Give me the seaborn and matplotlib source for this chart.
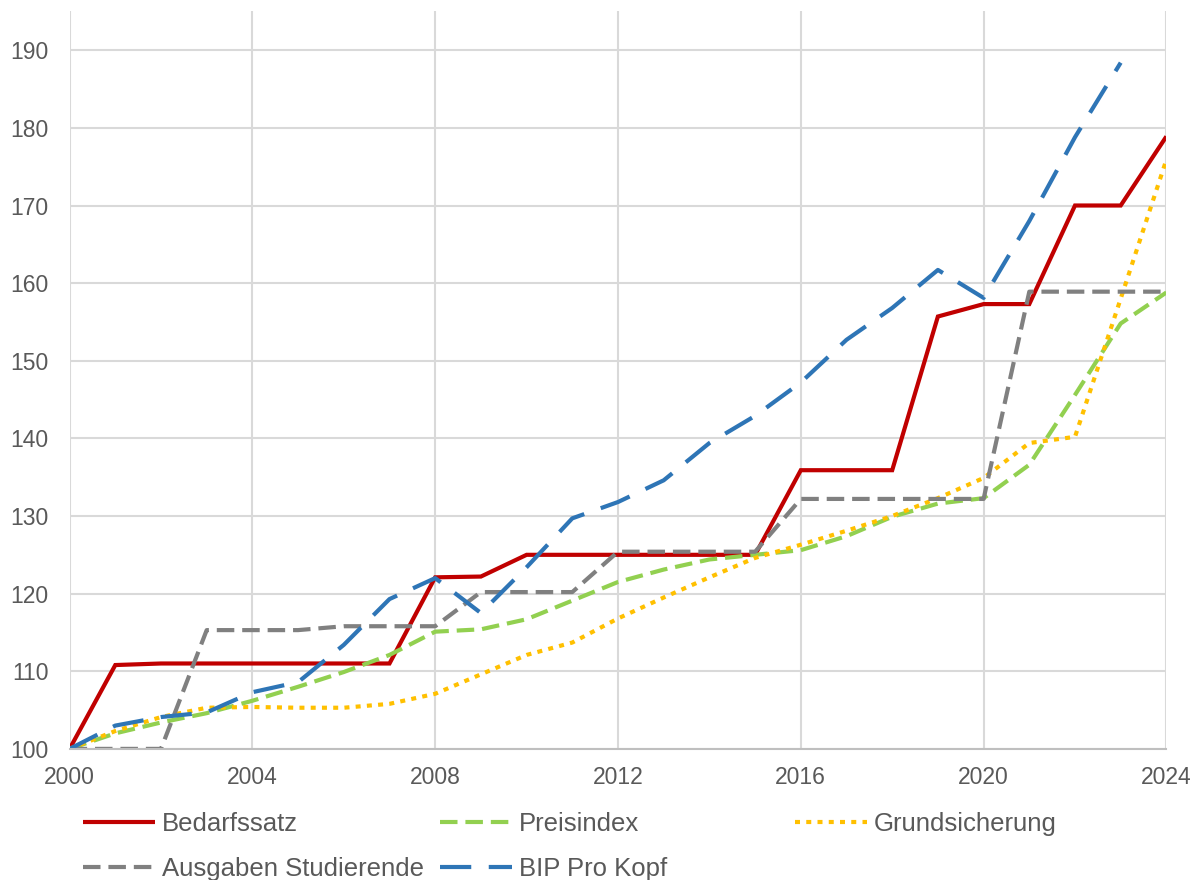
import matplotlib
matplotlib.use("Agg")
import matplotlib.pyplot as plt
import numpy as np
import pandas as pd
import seaborn as sns

# values (index, 2000 = 100)
years = list(range(2000, 2025))

bedarfssatz = [100.0, 110.8, 111.0, 111.0, 111.0, 111.0, 111.0, 111.0, 122.1, 122.2,
               125.0, 125.0, 125.0, 125.0, 125.0, 125.0, 135.9, 135.9, 135.9, 155.7,
               157.3, 157.3, 170.0, 170.0, 178.9]
preisindex = [100.0, 102.0, 103.4, 104.6, 106.2, 108.0, 109.9, 112.1, 115.1, 115.4,
              116.7, 119.1, 121.5, 123.1, 124.4, 125.0, 125.6, 127.4, 129.9, 131.6,
              132.3, 136.6, 145.6, 154.8, 158.8]
grundsicherung = [100.0, 102.3, 104.1, 105.3, 105.4, 105.3, 105.3, 105.8, 107.1, 109.6,
                  112.1, 113.7, 116.8, 119.5, 122.1, 124.6, 126.3, 128.1, 130.0, 132.3,
                  134.9, 139.4, 140.2, 158.0, 175.9]
ausgaben_studierende = [100.0, 100.0, 100.0, 115.3, 115.3, 115.3, 115.8, 115.8, 115.8, 120.2,
                        120.2, 120.2, 125.4, 125.4, 125.4, 125.4, 132.2, 132.2, 132.2, 132.2,
                        132.2, 158.9, 158.9, 158.9, 158.9]
bip_pro_kopf = [100.0, 103.0, 104.1, 104.7, 107.3, 108.6, 113.4, 119.3, 122.0, 117.5,
                123.4, 129.7, 131.8, 134.6, 139.4, 142.9, 147.2, 152.7, 156.8, 161.7,
                158.1, 168.0, 178.8, 188.4, np.nan]

series_names = ["Bedarfssatz", "Preisindex", "Grundsicherung",
                "Ausgaben Studierende", "BIP Pro Kopf"]
series_values = [bedarfssatz, preisindex, grundsicherung,
                 ausgaben_studierende, bip_pro_kopf]

colors = ["#C00000", "#92D050", "#FFC000", "#808080", "#2E75B6"]
# dash patterns in units of line width (None = solid)
dash_styles = [None, (4.2, 1.9), (1.2, 1.5), (4.2, 1.9), (7.5, 4.2)]

sns.set_theme(style="white")
plt.rcParams["font.family"] = ["Liberation Sans", "DejaVu Sans"]

fig = plt.figure(figsize=(12, 8.8), dpi=100)
ax = fig.add_axes([0.058, 0.149, 0.914, 0.838])

handles = []
for name, vals, col, dash in zip(series_names, series_values, colors, dash_styles):
    df = pd.DataFrame({"Jahr": years, "Wert": vals}).dropna()
    sns.lineplot(data=df, x="Jahr", y="Wert", ax=ax, color=col, linewidth=3.0,
                 label=name, legend=False)
    line = ax.lines[-1]
    line.set_solid_capstyle("butt")
    line.set_dash_capstyle("butt")
    line.set_solid_joinstyle("miter")
    if dash is not None:
        line.set_dashes(dash)
    handles.append(line)

ax.set_xlim(2000, 2024)
ax.set_ylim(100, 195)
ax.set_xticks(range(2000, 2025, 4))
ax.set_yticks(range(100, 195, 10))
ax.set_xlabel("")
ax.set_ylabel("")

ax.grid(True, color="#d9d9d9", linewidth=1.5)
ax.set_axisbelow(True)
for side in ["top", "right", "left"]:
    ax.spines[side].set_visible(False)
ax.spines["bottom"].set_color("#bfbfbf")
ax.spines["bottom"].set_linewidth(1.5)

ax.tick_params(axis="both", length=0, labelsize=16.5, labelcolor="#595959")
ax.tick_params(axis="x", pad=12)
ax.tick_params(axis="y", pad=15)

# legend laid out as three fixed columns like the original
legend_cols = [[0, 3], [1, 4], [2]]
col_x = [0.069, 0.367, 0.6625]
for idx, x0 in zip(legend_cols, col_x):
    leg = fig.legend([handles[i] for i in idx], [series_names[i] for i in idx],
                     loc="upper left", bbox_to_anchor=(x0, 0.077), frameon=False,
                     fontsize=18.5, labelcolor="#595959", handlelength=2.8,
                     handletextpad=0.27, borderpad=0, borderaxespad=0,
                     labelspacing=0.8)

fig.savefig("out.png", dpi=100)
